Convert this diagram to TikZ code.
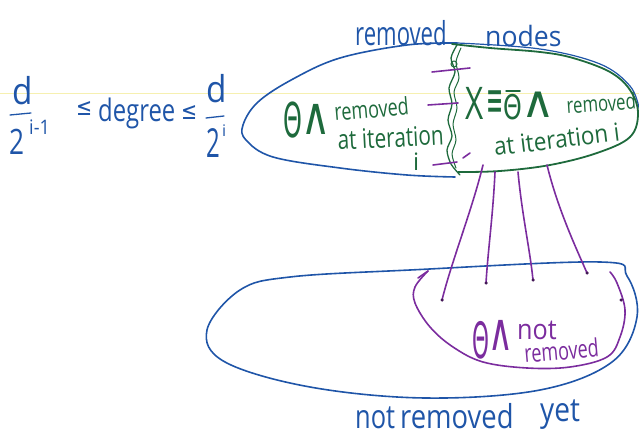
\documentclass[tikz,border=0pt]{standalone}
\usepackage{graphicx}
\usepackage{fontspec}
\setmainfont{Open Sans}
\newfontfamily\symf{DejaVu Sans}
\definecolor{hblue}{HTML}{1F55A8}
\definecolor{hgreen}{HTML}{1E6A3C}
\definecolor{hpurple}{HTML}{7B2C9E}
\definecolor{hyellow}{HTML}{F6F0B0}
\newcommand\hw[3]{\scalebox{#2}[1]{\fontsize{#1}{#1}\selectfont #3}}
\newcommand\hwv[4]{\scalebox{#2}[#3]{\fontsize{#1}{#1}\selectfont #4}}
\tikzset{
  bluepen/.style={draw=hblue, line width=1.6pt, line cap=round, line join=round},
  greenpen/.style={draw=hgreen, line width=1.8pt, line cap=round, line join=round},
  purplepen/.style={draw=hpurple, line width=1.6pt, line cap=round, line join=round},
  bt/.style={text=hblue, inner sep=0pt, anchor=base west},
  gt/.style={text=hgreen, inner sep=0pt, anchor=base west},
  pt/.style={text=hpurple, inner sep=0pt, anchor=base west},
  enddot/.style={circle, fill=hpurple!55!black, inner sep=0pt, minimum size=3.5pt},
}
\begin{document}
\begin{tikzpicture}[x=1pt, y=-1pt]
\useasboundingbox (0,0) rectangle (639,443);
% faint yellow line
\draw[hyellow, line width=1pt] (0,94) -- (639,94);

% top shape: blue outline
\draw[bluepen] plot[smooth, tension=0.6] coordinates {(457,43) (407,45) (340,58) (293,79) (258,102) (243,125) (246,140) (273,157) (340,168) (407,175) (455,177)};
\draw[bluepen, line width=1.2pt] plot[smooth, tension=0.6] coordinates {(457,43) (540,49) (600,64) (630,86) (639,108)};
% green right part
\draw[greenpen] plot[smooth, tension=0.6] coordinates {(452,44) (490,48) (540,52) (573,58) (610,72) (630,90) (638,113) (630,137) (597,153) (550,165) (500,171) (458,172)};
% green divider (double wavy)
\draw[greenpen, line width=1.3pt] plot[smooth, tension=0.5] coordinates {(457,45) (451,58) (455,72) (449,88) (452,104) (448,120) (452,136) (447,150) (451,164) (460,175)};
\draw[greenpen, line width=1pt] plot[smooth, tension=0.5] coordinates {(461,48) (456,62) (459,78) (454,92) (457,108) (453,124) (456,140) (452,154) (456,168)};
\draw[hgreen, line width=1pt] (454,64) circle (3);

% purple ticks on divider
\draw[purplepen] (432,72) -- (470,68);
\draw[purplepen] (428,105) -- (458,103);
\draw[purplepen] (433,165) -- (457,162);
\draw[purplepen] (463,158) -- (470,153);

% top labels
\node[bt] (rn) at (355,46) {\hw{33}{0.67}{removed}};
\node[bt] (nd) at (485,47) {\hw{28}{0.95}{nodes}};

% left green text
\node[gt] (lt1) at (283,138) {\hw{48}{0.5}{\symf Θ}};
\node[gt] (lt2) at (301,135) {\hwv{40}{1.0}{1.3}{\symf ∧}};
\node[gt, rotate=5] (lt3) at (335,121) {\hw{24}{0.75}{removed}};
\node[gt, rotate=3] (lt4) at (338,150) {\hw{27}{0.77}{at iteration}};
\node[gt] (lt5) at (413,171) {\hw{24}{1}{i}};

% right green text
\node[gt] (rt1) at (465,120) {\hw{45}{0.7}{X}};
\node[gt] (rt2) at (486,117) {\hwv{30}{0.68}{1.6}{\symf ≡}};
\node[gt] (rt3) at (503,120) {\hw{34}{0.7}{\symf Θ}};
\draw[greenpen, line width=1.5pt] (rt3.base west) ++(3,-29) -- ++(14,0);
\node[gt] (rt4) at (521,118) {\hwv{40}{1.15}{1.1}{\symf ∧}};
\node[gt, rotate=4] (rt5) at (567,114) {\hw{22}{0.76}{removed}};
\node[gt, rotate=7] (rt6) at (495,156) {\hw{25}{0.9}{at iteration i}};

% formula
\node[bt] (f1n) at (12,105) {\hw{37}{0.9}{d}};
\draw[bluepen, line width=1.3pt] (10,115) -- (31,113);
\node[bt] (f1d) at (9,155) {\hw{35}{0.75}{2}};
\node[bt] (f1s) at (29,135) {\hw{20}{0.9}{i-1}};
\node[bt] (le1) at (76,116) {\hw{24}{0.8}{\symf ≤}};
\node[bt] (deg) at (98,122) {\hw{31}{0.77}{degree}};
\node[bt] (le2) at (181,120) {\hw{24}{0.8}{\symf ≤}};
\node[bt] (f2n) at (206,103) {\hw{37}{0.9}{d}};
\draw[bluepen, line width=1.3pt] (206,118) -- (224,116);
\node[bt] (f2d) at (206,158) {\hw{40}{0.6}{2}};
\node[bt] (f2s) at (222,137) {\hw{16}{1}{i}};

% bottom ellipse
\draw[bluepen] plot[smooth cycle, tension=0.6] coordinates {(240,290) (290,277) (410,270) (600,262) (627,276) (637,317) (612,362) (540,390) (425,398) (310,387) (225,362) (207,330)};

% purple loop
\coordinate (ls) at (428,271);
\draw[purplepen] (418,278) -- (ls);
\draw[purplepen] plot[smooth, tension=0.6] coordinates {(ls) (415,287) (415,303) (430,327) (453,347) (483,362) (527,368) (570,367) (607,357) (620,337) (625,310) (617,283) (610,272)};
\node[enddot] (ld) at (621,300) {};

% purple edges
\coordinate (a1) at (483,165);
\coordinate (a2) at (495,172);
\coordinate (a3) at (518,172);
\coordinate (a4) at (547,165);
\coordinate (b1) at (442,300);
\coordinate (b2) at (486,283);
\coordinate (b3) at (533,280);
\coordinate (b4) at (587,273);
\draw[purplepen] (a1) .. controls (472,210) and (452,260) .. (b1);
\draw[purplepen] (a2) .. controls (493,215) and (488,250) .. (b2);
\draw[purplepen] (a3) .. controls (522,215) and (530,250) .. (b3);
\draw[purplepen] (a4) .. controls (558,210) and (577,250) .. (b4);
\node[enddot] (d1) at (b1) {};
\node[enddot] (d2) at (b2) {};
\node[enddot] (d3) at (b3) {};
\node[enddot] (d4) at (b4) {};

% purple text
\node[pt] (pt1) at (472,358) {\hw{50}{0.43}{\symf Θ}};
\node[pt] (pt2) at (488,350) {\hwv{40}{0.85}{1.3}{\symf ∧}};
\node[pt] (pt3) at (517,339) {\hw{28}{0.9}{not}};
\node[pt, rotate=5] (pt4) at (525,363) {\hw{25}{0.72}{removed}};

% bottom label
\node[bt] (nr1) at (355,428) {\hw{33}{0.77}{not}};
\node[bt] (nr2) at (400,428) {\hw{33}{0.83}{removed}};
\node[bt] (yt) at (540,421) {\hw{33}{0.85}{yet}};
\end{tikzpicture}
\end{document}
